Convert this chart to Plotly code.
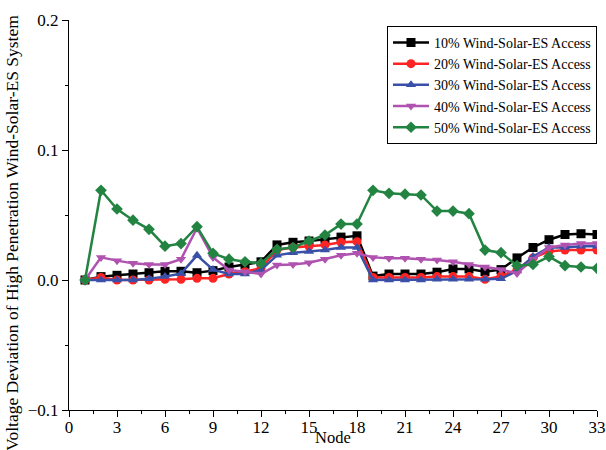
import plotly.graph_objects as go

nodes = list(range(1, 34))
s10 = [0, 0.0026, 0.0036, 0.0046, 0.0056, 0.0067, 0.0067, 0.0056, 0.0072, 0.010, 0.012,
       0.014, 0.027, 0.029, 0.030, 0.0315, 0.033, 0.034, 0.003, 0.0046, 0.0046, 0.0046,
       0.006, 0.0085, 0.0085, 0.0064, 0.008, 0.017, 0.025, 0.031, 0.035, 0.0356, 0.035]
s20 = [0, 0.002, 0, 0, 0, 0.0005, 0.0005, 0.0013, 0.0013, 0.0046, 0.0064,
       0.009, 0.023, 0.025, 0.026, 0.027, 0.029, 0.0295, 0.002, 0.002, 0.002, 0.002,
       0.0026, 0.0026, 0.0026, 0.0005, 0.003, 0.008, 0.017, 0.022, 0.023, 0.023, 0.023]
s30 = [0, 0, 0, 0, 0.001, 0.0026, 0.005, 0.019, 0.008, 0.0046, 0.0046,
       0.0077, 0.019, 0.021, 0.022, 0.023, 0.025, 0.025, 0.0, 0.0, 0.0, 0.0,
       0.0005, 0.0005, 0.0005, 0.0005, 0.001, 0.007, 0.018, 0.025, 0.025, 0.026, 0.026]
s40 = [0, 0.0174, 0.0149, 0.0128, 0.012, 0.012, 0.016, 0.040, 0.0174, 0.0077, 0.0064,
       0.0046, 0.0115, 0.012, 0.0133, 0.016, 0.019, 0.0205, 0.0174, 0.0167, 0.0167, 0.016,
       0.0154, 0.014, 0.012, 0.010, 0.008, 0.005, 0.016, 0.025, 0.027, 0.028, 0.028]
s50 = [0, 0.069, 0.0546, 0.046, 0.039, 0.026, 0.028, 0.041, 0.0205, 0.016, 0.014,
       0.0128, 0.0236, 0.025, 0.030, 0.0346, 0.043, 0.043, 0.069, 0.0667, 0.066, 0.0654,
       0.053, 0.053, 0.051, 0.023, 0.021, 0.011, 0.012, 0.018, 0.011, 0.010, 0.009]

names = ["10% Wind-Solar-ES Access", "20% Wind-Solar-ES Access", "30% Wind-Solar-ES Access",
         "40% Wind-Solar-ES Access", "50% Wind-Solar-ES Access"]
series = [s10, s20, s30, s40, s50]
colors = ["#000000", "#ff2424", "#3a50a8", "#b052b0", "#238442"]
symbols = ["square", "circle", "triangle-up", "triangle-down", "diamond"]
y_title = "Voltage Deviation of High Penetration Wind-Solar-ES System"
x_title = "Node"

fig = go.Figure()
for n, s, c, sym in zip(names, series, colors, symbols):
    fig.add_trace(go.Scatter(x=nodes, y=s, name=n, mode="lines+markers",
                             line=dict(color=c, width=2.5),
                             marker=dict(symbol=sym, size=9, color=c)))

font = "Liberation Serif"
fig.update_layout(
    width=606, height=450,
    margin=dict(l=69, r=9, t=20, b=40),
    paper_bgcolor="white", plot_bgcolor="white",
    font=dict(family=font, color="black"),
    showlegend=True,
    legend=dict(x=1.0, y=0.985, xanchor="right", yanchor="top",
                bordercolor="black", borderwidth=1, bgcolor="white",
                font=dict(size=14, family=font), tracegroupgap=0,
                itemwidth=36),
    annotations=[
        dict(text=y_title, textangle=-90, xref="paper", yref="paper",
             x=-0.108, y=0.454, xanchor="center", yanchor="middle",
             showarrow=False, font=dict(size=17.5, family=font)),
        dict(text=x_title, xref="paper", yref="paper",
             x=0.5, y=-0.071, xanchor="center", yanchor="middle",
             showarrow=False, font=dict(size=16.5, family=font)),
    ],
)
fig.update_xaxes(range=[0, 33], tickmode="linear", tick0=0, dtick=3,
                 showline=True, linecolor="black", linewidth=1,
                 ticks="outside", ticklen=6, tickcolor="black",
                 minor=dict(ticks="outside", ticklen=3, dtick=1.5, tickcolor="black"),
                 showgrid=False, zeroline=False, ticklabeloverflow="allow",
                 automargin=False, ticklabelstandoff=-4,
                 tickfont=dict(size=17, family=font))
fig.update_yaxes(range=[-0.1, 0.2], tickmode="linear", tick0=-0.1, dtick=0.1,
                 tickformat=".1f", automargin=False,
                 showline=True, linecolor="black", linewidth=1,
                 ticks="outside", ticklen=6, tickcolor="black",
                 minor=dict(ticks="outside", ticklen=3, dtick=0.05, tickcolor="black"),
                 showgrid=False, zeroline=False,
                 tickfont=dict(size=17, family=font))

fig.write_html("out.html")
